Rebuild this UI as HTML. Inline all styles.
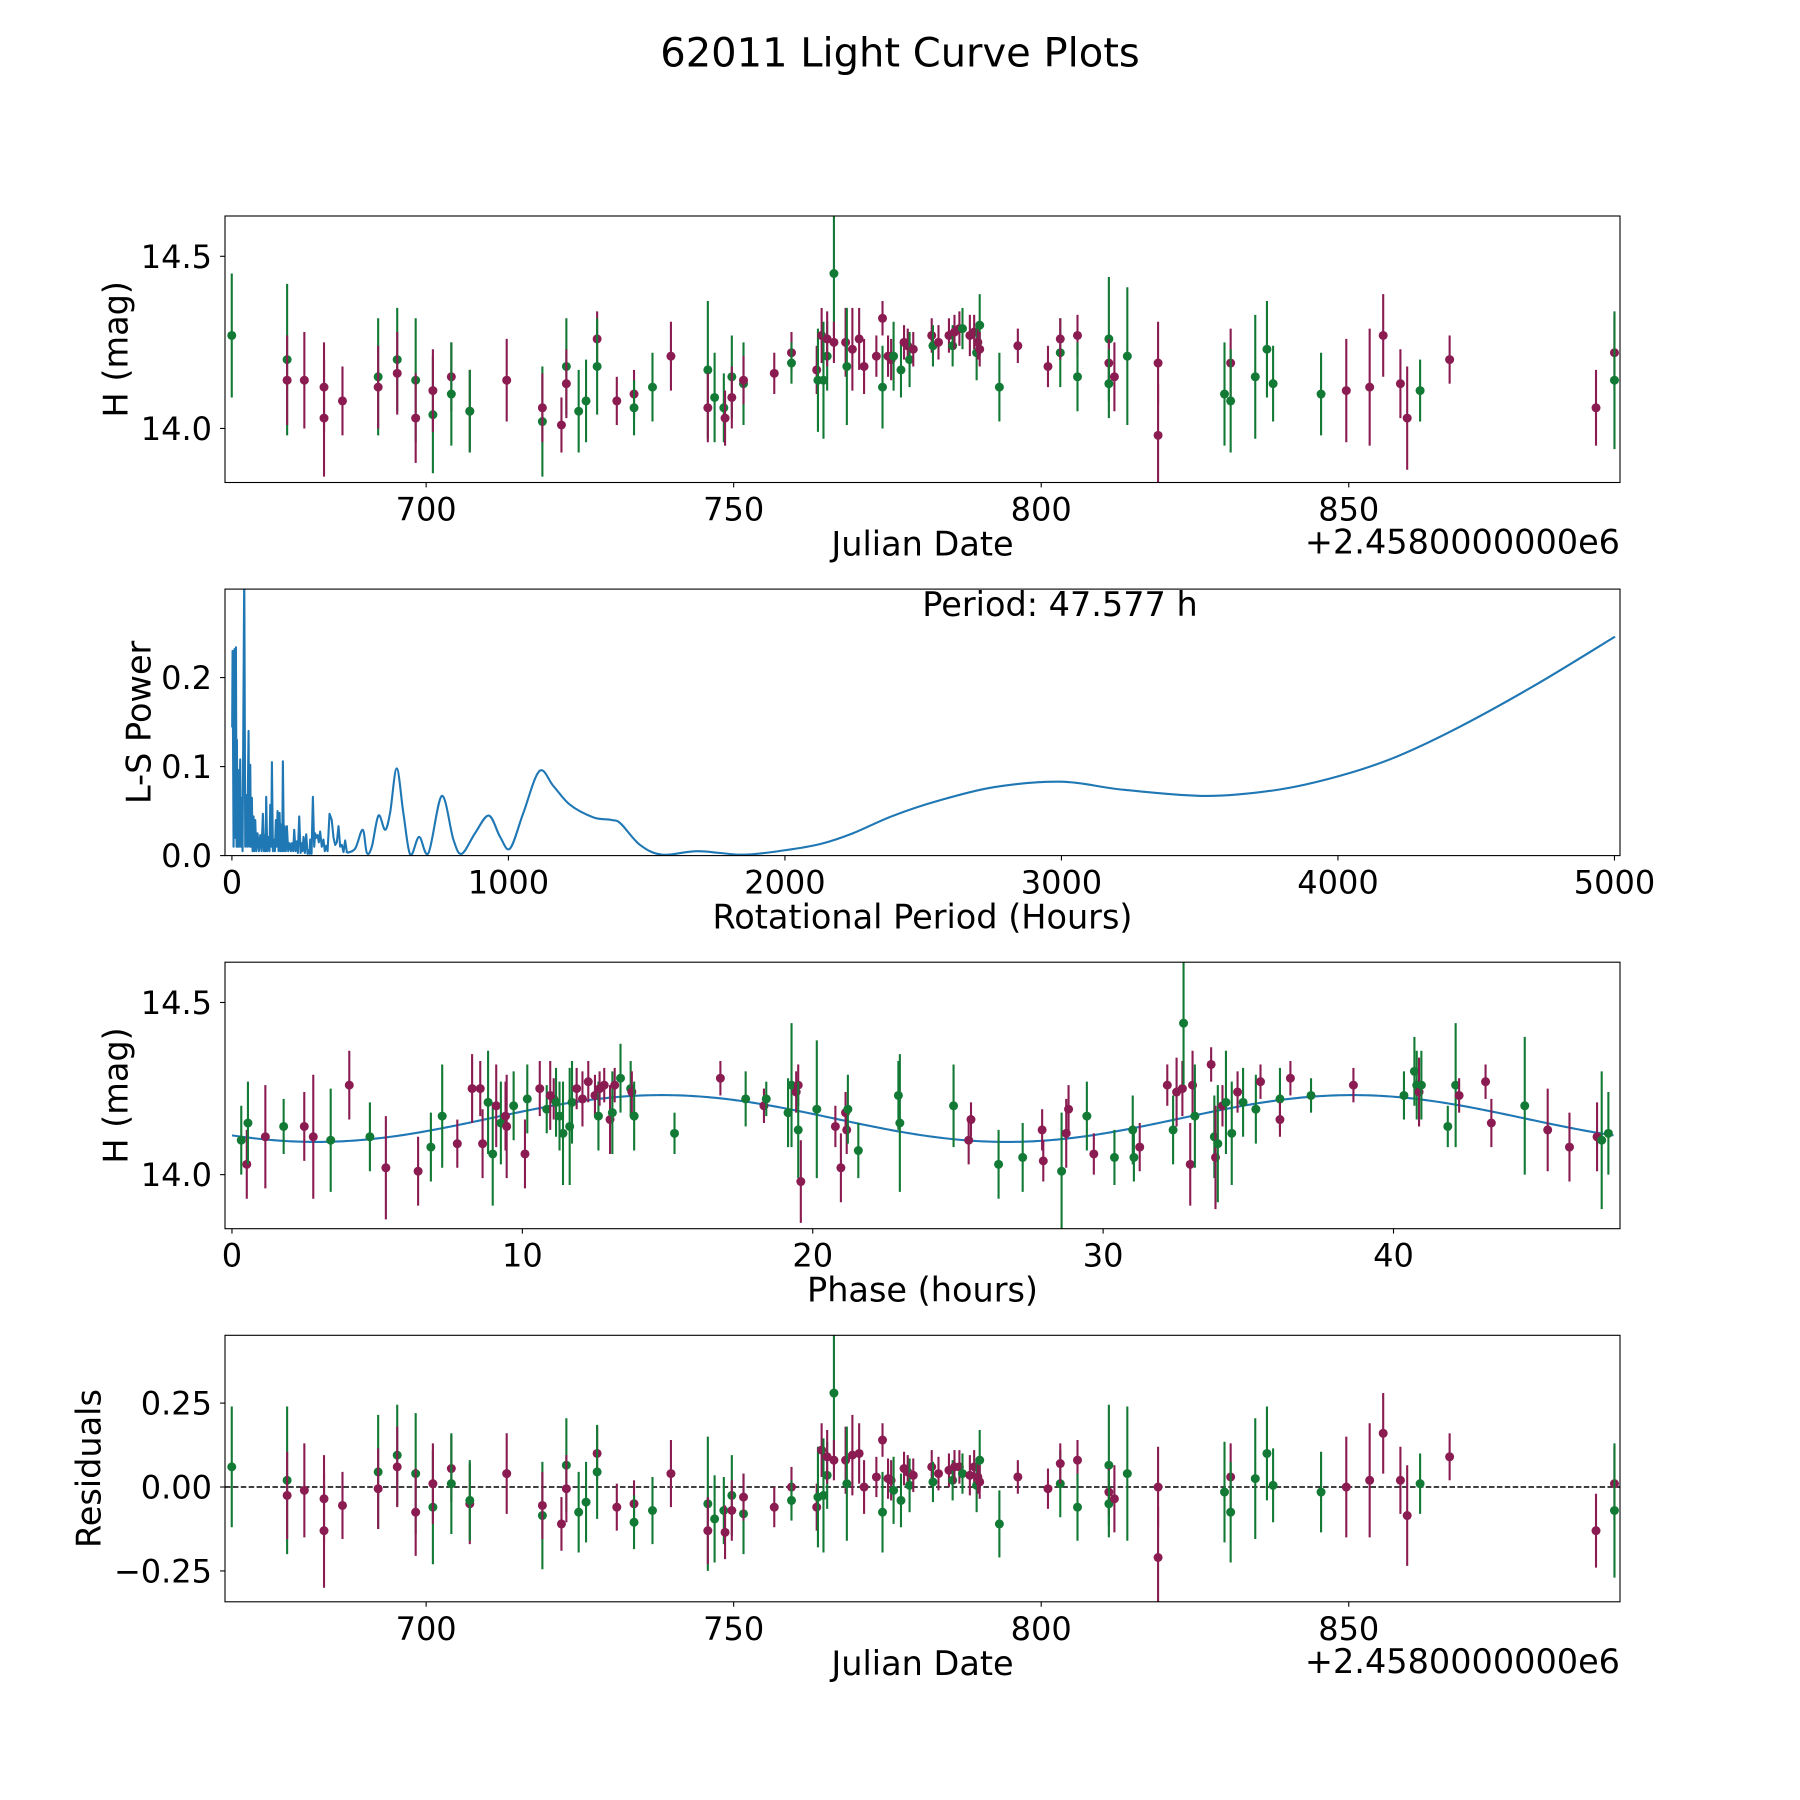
<!DOCTYPE html>
<html><head><meta charset="utf-8"><title>62011 Light Curve Plots</title>
<style>
html,body{margin:0;padding:0;background:#fff;}
svg{display:block;font-family:"DejaVu Sans","Liberation Sans",sans-serif;}
</style></head>
<body>
<svg id="fig" width="1800" height="1800" viewBox="0 0 1800 1800" xmlns="http://www.w3.org/2000/svg">
<rect width="1800" height="1800" fill="#fff"/>
<text x="900" y="66.7" font-size="40" text-anchor="middle">62011 Light Curve Plots</text>
</svg>
<script>
// ---------- Panel 1 & 4 data (Julian date light curve + residuals) ----------
const jdDays=[668.4,677.4,677.4,680.2,683.4,683.4,686.4,692.2,692.2,695.3,695.3,698.3,698.3,701.1,701.1,704.1,704.1,707.1,707.1,713.1,718.9,718.9,722.0,722.8,722.8,724.8,726.0,727.8,727.8,731.0,733.8,733.8,736.8,739.8,745.8,745.8,746.9,748.4,748.6,749.7,749.7,751.6,751.6,756.6,759.4,759.4,763.5,763.7,764.3,764.6,765.2,765.2,766.3,766.3,768.2,768.4,769.3,770.4,771.2,773.2,774.2,774.2,775.1,775.6,776.0,777.2,777.7,778.3,778.6,779.2,782.2,782.4,783.3,785.0,785.6,785.9,786.7,787.2,788.4,789.1,789.5,789.7,790.0,790.0,793.2,796.2,801.1,803.1,803.1,805.9,805.9,811.0,811.0,811.0,811.9,814.0,819.0,819.0,829.8,830.8,830.8,834.8,836.7,837.7,845.5,849.6,853.4,855.6,858.4,859.5,861.6,866.4,890.2,893.2,893.2];
const jdMags=[14.27,14.20,14.14,14.14,14.03,14.12,14.08,14.15,14.12,14.20,14.16,14.14,14.03,14.04,14.11,14.15,14.10,14.05,14.05,14.14,14.02,14.06,14.01,14.18,14.13,14.05,14.08,14.26,14.18,14.08,14.10,14.06,14.12,14.21,14.17,14.06,14.09,14.06,14.03,14.15,14.09,14.13,14.14,14.16,14.22,14.19,14.17,14.14,14.27,14.14,14.21,14.26,14.45,14.25,14.25,14.18,14.23,14.26,14.18,14.21,14.32,14.12,14.21,14.20,14.21,14.17,14.25,14.24,14.20,14.23,14.27,14.24,14.25,14.27,14.24,14.28,14.29,14.29,14.27,14.28,14.22,14.25,14.30,14.23,14.12,14.24,14.18,14.22,14.26,14.27,14.15,14.26,14.19,14.13,14.15,14.21,14.19,13.98,14.10,14.19,14.08,14.15,14.23,14.13,14.10,14.11,14.12,14.27,14.13,14.03,14.11,14.20,14.06,14.22,14.14];
const jdErrs=[0.18,0.22,0.13,0.14,0.17,0.13,0.10,0.17,0.12,0.15,0.12,0.18,0.13,0.17,0.12,0.10,0.15,0.12,0.12,0.12,0.16,0.10,0.08,0.14,0.10,0.12,0.12,0.08,0.14,0.07,0.07,0.08,0.10,0.10,0.20,0.10,0.13,0.10,0.08,0.12,0.09,0.12,0.07,0.06,0.06,0.06,0.07,0.15,0.08,0.17,0.10,0.08,0.18,0.06,0.10,0.17,0.12,0.09,0.08,0.06,0.05,0.12,0.06,0.06,0.10,0.08,0.05,0.05,0.08,0.05,0.05,0.06,0.05,0.05,0.06,0.05,0.05,0.06,0.06,0.05,0.08,0.05,0.09,0.05,0.10,0.05,0.06,0.10,0.06,0.06,0.10,0.18,0.07,0.10,0.10,0.20,0.12,0.15,0.15,0.10,0.15,0.18,0.14,0.11,0.12,0.15,0.17,0.12,0.10,0.15,0.09,0.07,0.11,0.11,0.20];
const jdBands=("ggmmmmmgmg"+"mgmgmmgmgm"+"gmmgmggmgm"+"mggmgmggmg"+"mgmmmgmgmg"+"gmgmmgmmmm"+"mgmmggmmgm"+"mgmmgmmgmm"+"gmgmgmmgmm"+"ggmgmgmmgm"+"gggggmmmmm"+"gmmmg").split("");
const jdResid=[0.06,0.02,-0.025,-0.01,-0.13,-0.035,-0.055,0.045,-0.005,0.095,0.06,0.04,-0.075,-0.06,0.01,0.055,0.01,-0.05,-0.04,0.04,-0.085,-0.055,-0.11,0.065,-0.005,-0.075,-0.045,0.10,0.045,-0.06,-0.05,-0.105,-0.07,0.04,-0.05,-0.13,-0.095,-0.07,-0.135,-0.025,-0.07,-0.08,-0.03,-0.06,0,-0.04,-0.06,-0.03,0.11,-0.025,0.035,0.09,0.28,0.08,0.08,0.01,0.095,0.10,0,0.03,0.14,-0.075,0.025,0.02,-0.01,-0.04,0.055,0.045,0.005,0.035,0.06,0.015,0.04,0.05,0.02,0.06,0.06,0.04,0.035,0.06,0.005,0.03,0.08,0.015,-0.11,0.03,-0.005,0.01,0.07,0.08,-0.06,0.065,-0.015,-0.05,-0.035,0.04,0,-0.21,-0.015,0.03,-0.075,0.025,0.10,0.005,-0.015,0,0.02,0.16,0.02,-0.085,0.01,0.09,-0.13,0.01,-0.07];
const jdTicks=[700,750,800,850];
const magTicks=[14.0,14.5];
const magTickLabels=["14.0","14.5"];
const residTicks=[-0.25,0,0.25];
const residTickLabels=["\u22120.25","0.00","0.25"];

// ---------- Panel 2 data (Lomb-Scargle periodogram) ----------
const lsSpikePeriods=[1,2.4,6,9.6,12,14.5,16.9,18,20.5,24,26.5,30,32.5,36,38.5,44.6,48.2,51.8,55.4,60.2,62.7,66.3,68.7,72.3,74.7,78.3,80.7,84.3,88,92.8,97.6,102.4,107.2,112,115.7,118,121.7,124,127.7,132.5,136,138.6,142.2,144.6,148.2,150.6,155.4,159,162.7,165,168.7,172.3,175.9,178.3,182,184.3,188,190.4,195,198.8,203.6,208.4,213.3,216.9,221.7,225.3,230,235,238.5,243.4,248.2,251.8,255.4,259,263.9,268.7,273.5,277,280.7,283,288,292.8,297.6,301,304.8,309.6,314.4,319,325,331,336,341,346,353,361,367.5,373.5,379.5,385.5,391.6,397.6,403.6,409.6,416];
const lsSpikePowers=[0.144,0.23,0.01,0.232,0.02,0.234,0.01,0.13,0.01,0.096,0.01,0.108,0.01,0.065,0.005,0.32,0.01,0.068,0.01,0.14,0.01,0.102,0.01,0.065,0.005,0.044,0.005,0.040,0.005,0.025,0.005,0.023,0.005,0.047,0.005,0.023,0.005,0.066,0.005,0.021,0.005,0.057,0.01,0.105,0.005,0.018,0.005,0.04,0.01,0.05,0.005,0.048,0.005,0.035,0.005,0.106,0.005,0.033,0.005,0.033,0.005,0.014,0.005,0.014,0.005,0.029,0.005,0.016,0.003,0.044,0.003,0.014,0.005,0.021,0.003,0.024,0.002,0.006,0.002,0.018,0.002,0.066,0.01,0.025,0.02,0.023,0.015,0.027,0.01,0.018,0.005,0.011,0.005,0.047,0.04,0.02,0.012,0.015,0.033,0.01,0.012,0.004,0.017,0.003];
const lsSmoothPeriods=[416,446,473,488,506,530,554,572,596,620,645,677,711,759,801,831,879,929,970,1006,1054,1112,1163,1223,1307,1373,1406,1476,1557,1685,1848,2000,2128,2245,2385,2548,2758,3000,3224,3527,3783,4000,4203,4436,4716,5002];
const lsSmoothPowers=[0.003,0.008,0.029,0.003,0.01,0.045,0.029,0.048,0.098,0.048,0.001,0.021,0.003,0.067,0.018,0.002,0.025,0.045,0.021,0.008,0.048,0.095,0.078,0.057,0.043,0.040,0.036,0.012,0.001,0.005,0.001,0.006,0.013,0.025,0.044,0.061,0.077,0.083,0.074,0.067,0.074,0.089,0.110,0.144,0.192,0.246];
const lsTicks=[0,1000,2000,3000,4000,5000];
const lsYTicks=[0,0.1,0.2];
const lsYTickLabels=["0.0","0.1","0.2"];
const bestPeriodLabel="Period: 47.577 h";

// ---------- Panel 3 data (phase-folded) ----------
const phPhases=[0.32,0.51,0.55,1.15,1.78,2.49,2.8,3.4,4.04,4.75,5.3,6.41,6.85,7.24,7.76,8.27,8.55,8.63,8.82,8.98,9.1,9.26,9.42,9.46,9.7,10.09,10.17,10.6,10.84,10.96,11.08,11.16,11.28,11.4,11.63,11.71,11.87,12.07,12.27,12.5,12.62,12.66,12.82,13.02,13.1,13.18,13.38,13.73,13.77,13.85,15.24,16.82,17.69,18.32,18.4,19.15,19.27,19.43,19.5,19.5,19.59,20.14,20.78,20.97,21.13,21.17,21.21,21.57,22.95,23.0,24.85,25.37,25.45,26.4,27.23,27.9,27.94,28.57,28.73,28.81,29.44,29.68,30.39,31.02,31.06,31.26,32.21,32.41,32.53,32.73,32.77,33.0,33.08,33.16,33.72,33.83,33.87,33.95,34.11,34.23,34.43,34.63,34.82,35.26,35.42,36.09,36.09,36.45,37.16,38.62,40.36,40.72,40.8,40.88,40.96,41.87,42.14,42.26,43.17,43.37,44.52,45.31,46.06,47.01,47.17,47.4];
const phMags=[14.10,14.03,14.15,14.11,14.14,14.14,14.11,14.10,14.26,14.11,14.02,14.01,14.08,14.17,14.09,14.25,14.25,14.09,14.21,14.06,14.20,14.15,14.17,14.14,14.20,14.06,14.22,14.25,14.19,14.23,14.22,14.21,14.17,14.12,14.14,14.21,14.25,14.22,14.27,14.23,14.17,14.25,14.26,14.16,14.18,14.26,14.28,14.25,14.24,14.17,14.12,14.28,14.22,14.20,14.22,14.18,14.26,14.24,14.26,14.13,13.98,14.19,14.14,14.02,14.18,14.13,14.19,14.07,14.23,14.15,14.20,14.10,14.16,14.03,14.05,14.13,14.04,14.01,14.12,14.19,14.17,14.06,14.05,14.13,14.05,14.08,14.26,14.13,14.24,14.25,14.44,14.03,14.26,14.17,14.32,14.11,14.05,14.09,14.20,14.21,14.12,14.24,14.21,14.19,14.27,14.22,14.16,14.28,14.23,14.26,14.23,14.30,14.26,14.24,14.26,14.14,14.26,14.23,14.27,14.15,14.20,14.13,14.08,14.11,14.10,14.12];
const phErrs=[0.10,0.10,0.12,0.15,0.08,0.10,0.18,0.15,0.10,0.10,0.15,0.10,0.10,0.15,0.07,0.10,0.08,0.10,0.15,0.15,0.12,0.12,0.10,0.15,0.10,0.10,0.10,0.08,0.07,0.10,0.06,0.10,0.10,0.15,0.17,0.12,0.06,0.08,0.06,0.06,0.10,0.05,0.05,0.10,0.12,0.05,0.10,0.08,0.06,0.10,0.06,0.05,0.08,0.05,0.05,0.10,0.18,0.06,0.06,0.14,0.12,0.20,0.06,0.10,0.06,0.07,0.10,0.08,0.10,0.20,0.12,0.07,0.05,0.10,0.10,0.06,0.06,0.17,0.10,0.07,0.10,0.06,0.08,0.10,0.07,0.07,0.06,0.10,0.10,0.08,0.18,0.12,0.10,0.15,0.05,0.12,0.15,0.17,0.06,0.15,0.15,0.06,0.10,0.10,0.05,0.09,0.05,0.05,0.05,0.05,0.07,0.10,0.10,0.10,0.10,0.06,0.18,0.05,0.05,0.07,0.20,0.12,0.10,0.10,0.20,0.12];
const phBands=("gmgmgmmgmg"+"mmggmmmmgg"+"mgmmgmgmgm"+"mggggg mmmm".replace(" ","")+"gmmmgmggmg"+"gmgmgggmmg"+"mgmmmmgggg"+"gmmggmmgmm"+"gmgggmmgmm"+"gmmgmgmgmg"+"gmggmgmmgm"+"gggmgggmmm"+"gmmmgg").split("");
const phTicks=[0,10,20,30,40];
const modelPeriod=[47.577];
const modelMean=[14.163];
const modelAmp=[0.068];
const modelPeak=[14.8];

// ---------- drawing ----------
const NS="http://www.w3.org/2000/svg";
const svg=document.getElementById("fig");
const GREEN="#127a35", MAROON="#8a1c52", BLUE="#1f77b4";
const L=225,R=1620,H=266.5;
const TOPS=[216,589.1,962.2,1335.3];
const TICKFS=32, LABFS=33.5;
function mk(tag,attrs,parent){const e=document.createElementNS(NS,tag);for(const k in attrs)e.setAttribute(k,attrs[k]);(parent||svg).appendChild(e);return e;}
const defs=mk("defs",{});
function makeAxes(i,xmin,xmax,ymin,ymax){
  const top=TOPS[i],bot=top+H;
  const cp=mk("clipPath",{id:"clip"+i},defs);
  mk("rect",{x:L,y:top,width:R-L,height:H},cp);
  const g=mk("g",{});
  
  
  const plot=mk("g",{"clip-path":"url(#clip"+i+")"},g);
  
  
  return {g,plot,top,bot,
    x:v=>L+(v-xmin)/(xmax-xmin)*(R-L),
    y:v=>bot-(v-ymin)/(ymax-ymin)*H};
}
function frame(ax){
  const f=mk("rect",{x:L,y:ax.top,width:R-L,height:H,fill:"none",stroke:"#000","stroke-width":1.1},ax.g);
  
  
}
function xTicks(ax,ticks,labels){
  ticks.forEach((t,k)=>{
    const X=ax.x(t);
    const ln=mk("line",{x1:X,x2:X,y1:ax.bot,y2:ax.bot+4.9,stroke:"#000","stroke-width":1.1},ax.g);
    
    
    const tx=mk("text",{x:X,y:ax.bot+38,"font-size":TICKFS,"text-anchor":"middle"},ax.g);
    tx.textContent=labels?labels[k]:String(t);
    
    
  });
}
function yTicks(ax,ticks,labels){
  ticks.forEach((t,k)=>{
    const Y=ax.y(t);
    const ln=mk("line",{x1:L-4.9,x2:L,y1:Y,y2:Y,stroke:"#000","stroke-width":1.1},ax.g);
    
    
    const tx=mk("text",{x:212,y:Y+11.5,"font-size":TICKFS,"text-anchor":"end"},ax.g);
    tx.textContent=labels[k];
    
    
  });
}
function xLabel(ax,txt,name){
  const t=mk("text",{x:(L+R)/2,y:ax.bot+73,"font-size":LABFS,"text-anchor":"middle"},ax.g);
  t.textContent=txt;
  
  
}
function yLabel(ax,txt,cx,name){
  const cy=(ax.top+ax.bot)/2;
  const t=mk("text",{x:cx,y:cy,"font-size":LABFS,"text-anchor":"middle",dy:"0.35em",transform:"rotate(-90 "+cx+" "+cy+")"},ax.g);
  t.textContent=txt;
  
  
}
function offsetText(ax){
  const t=mk("text",{x:R,y:ax.bot+71,"font-size":LABFS,"text-anchor":"end"},ax.g);
  t.textContent="+2.4580000000e6";
  
  
}
function errPoints(ax,xs,ys,errs,bands){
  xs.forEach((xv,k)=>{
    const col=bands[k]==="g"?GREEN:MAROON;
    const X=ax.x(xv);
    const bar=mk("line",{x1:X,x2:X,y1:ax.y(ys[k]-errs[k]),y2:ax.y(ys[k]+errs[k]),stroke:col,"stroke-width":2.1},ax.plot);
    
    
    const c=mk("circle",{cx:X,cy:ax.y(ys[k]),r:4.5,fill:col},ax.plot);
    
    
  });
}
function smoothPath(px,py){
  let d="M"+px[0].toFixed(2)+","+py[0].toFixed(2);
  for(let i=0;i<px.length-1;i++){
    const x0=px[Math.max(i-1,0)],y0=py[Math.max(i-1,0)];
    const x1=px[i],y1=py[i],x2=px[i+1],y2=py[i+1];
    const x3=px[Math.min(i+2,px.length-1)],y3=py[Math.min(i+2,px.length-1)];
    const c1x=x1+(x2-x0)/6,c1y=y1+(y2-y0)/6,c2x=x2-(x3-x1)/6,c2y=y2-(y3-y1)/6;
    d+=" C"+c1x.toFixed(2)+","+c1y.toFixed(2)+" "+c2x.toFixed(2)+","+c2y.toFixed(2)+" "+x2.toFixed(2)+","+y2.toFixed(2);
  }
  return d;
}

// Panel 1
const JDMIN=667.3,JDMAX=894.1;
const a1=makeAxes(0,JDMIN,JDMAX,13.843,14.617);
errPoints(a1,jdDays,jdMags,jdErrs,jdBands);
frame(a1);xTicks(a1,jdTicks);yTicks(a1,magTicks,magTickLabels);
xLabel(a1,"Julian Date","x-axis-title-julian-date");yLabel(a1,"H (mag)",116,"y-axis-title-magnitude");offsetText(a1);

// Panel 2
const a2=makeAxes(1,-25,5020,0,0.2994);
const pts=lsSpikePeriods.map((p,k)=>a2.x(p).toFixed(2)+","+a2.y(lsSpikePowers[k]).toFixed(2)).join(" ");
const pl=mk("polyline",{points:pts,fill:"none",stroke:BLUE,"stroke-width":2.1,"stroke-linejoin":"round"},a2.plot);


const sp=mk("path",{d:smoothPath(lsSmoothPeriods.map(a2.x),lsSmoothPowers.map(a2.y)),fill:"none",stroke:BLUE,"stroke-width":2.1},a2.plot);


const pt=mk("text",{x:1060,y:616,"font-size":LABFS,"text-anchor":"middle"},a2.g);
pt.textContent=bestPeriodLabel;


frame(a2);xTicks(a2,lsTicks);yTicks(a2,lsYTicks,lsYTickLabels);
xLabel(a2,"Rotational Period (Hours)","x-axis-title-rotational-period");yLabel(a2,"L-S Power",139,"y-axis-title-ls-power");

// Panel 3
const a3=makeAxes(2,-0.24,47.8,13.843,14.617);
const mpts=[];
for(let k=0;k<=400;k++){const p=modelPeriod[0]*k/400;const m=modelMean[0]+modelAmp[0]*Math.cos(4*Math.PI*(p-modelPeak[0])/modelPeriod[0]);mpts.push(a3.x(p).toFixed(2)+","+a3.y(m).toFixed(2));}
const ml=mk("polyline",{points:mpts.join(" "),fill:"none",stroke:BLUE,"stroke-width":2.1},a3.plot);


errPoints(a3,phPhases,phMags,phErrs,phBands);
frame(a3);xTicks(a3,phTicks);yTicks(a3,magTicks,magTickLabels);
xLabel(a3,"Phase (hours)","x-axis-title-phase");yLabel(a3,"H (mag)",116,"y-axis-title-magnitude-phase");

// Panel 4
const a4=makeAxes(3,JDMIN,JDMAX,-0.342,0.452);
const zl=mk("line",{x1:L,x2:R,y1:a4.y(0),y2:a4.y(0),stroke:"#000","stroke-width":1.5,"stroke-dasharray":"5.5,2.4"},a4.plot);


errPoints(a4,jdDays,jdResid,jdErrs,jdBands);
frame(a4);xTicks(a4,jdTicks);yTicks(a4,residTicks,residTickLabels);
xLabel(a4,"Julian Date","x-axis-title-julian-date-residuals");yLabel(a4,"Residuals",89,"y-axis-title-residuals");offsetText(a4);
</script>
</body></html>
